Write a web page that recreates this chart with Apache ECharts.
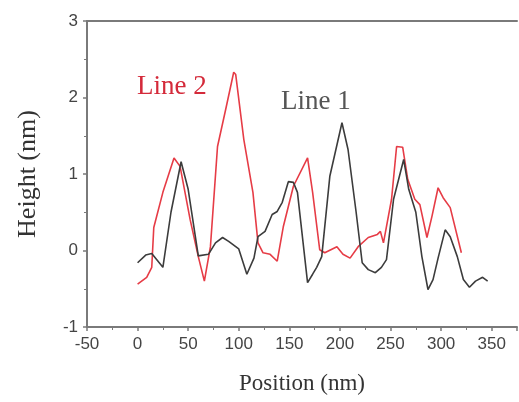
<!DOCTYPE html>
<html>
<head>
<meta charset="utf-8">
<script src="https://cdn.jsdelivr.net/npm/echarts@6/dist/echarts.min.js"></script>
<style>html,body{margin:0;padding:0;background:#fff}#c{width:519px;height:402px}</style>
</head>
<body>
<div id="c"></div>
<script>
// Line 1 (black) : position (nm), height (nm)
var line1Pos = [0, 8, 14, 25, 33, 43, 50, 60, 70, 77, 84, 90, 100, 108, 115, 119, 126, 133, 138, 143, 149, 154, 158, 168, 173, 177, 182, 190, 202, 208, 216, 222, 228, 235, 241, 246, 253, 263, 268, 275, 281, 287, 292, 297, 304, 309, 316, 322, 328, 334, 341, 346];
var line1H   = [-0.16, -0.06, -0.04, -0.22, 0.5, 1.16, 0.8, -0.07, -0.05, 0.1, 0.17, 0.12, 0.02, -0.31, -0.1, 0.18, 0.25, 0.47, 0.51, 0.63, 0.9, 0.89, 0.76, -0.42, -0.31, -0.22, -0.08, 0.97, 1.67, 1.32, 0.5, -0.16, -0.25, -0.29, -0.22, -0.12, 0.67, 1.19, 0.8, 0.5, -0.08, -0.51, -0.38, -0.1, 0.27, 0.18, -0.08, -0.38, -0.48, -0.4, -0.35, -0.4];
// Line 2 (red)
var line2Pos = [0, 9, 14, 16, 25, 36, 42, 52, 60, 66, 72, 79, 87, 95, 97, 105, 114, 119, 124, 131, 138, 144, 154, 168, 173, 180, 185, 197, 203, 210, 218, 228, 237, 240, 243, 251, 256, 262, 267, 274, 279, 286, 291, 297, 302, 309, 320];
var line2H   = [-0.44, -0.35, -0.22, 0.3, 0.76, 1.21, 1.1, 0.4, -0.08, -0.4, 0.05, 1.36, 1.84, 2.33, 2.3, 1.45, 0.76, 0.1, -0.03, -0.05, -0.14, 0.31, 0.84, 1.21, 0.76, 0.01, -0.03, 0.05, -0.05, -0.1, 0.05, 0.17, 0.21, 0.25, 0.1, 0.67, 1.36, 1.35, 0.93, 0.67, 0.6, 0.17, 0.45, 0.82, 0.69, 0.56, -0.03];
var xTicks = [-50, 0, 50, 100, 150, 200, 250, 300, 350];
var yTicks = [-1, 0, 1, 2, 3];

function pairs(xs, ys) { return xs.map(function (x, i) { return [x, ys[i]]; }); }

var axisCol = '#7a7a7a';
var chart = echarts.init(document.getElementById('c'));
chart.setOption({
  animation: false,
  backgroundColor: '#fff',
  grid: { left: 87, top: 21, right: 2, bottom: 75 },
  xAxis: [{
    type: 'value', min: -50, max: 375, interval: 50,
    axisLine: { show: true, onZero: false, lineStyle: { color: axisCol, width: 2 } },
    axisTick: { show: true, length: 4, lineStyle: { color: axisCol, width: 1.5 } },
    minorTick: { show: true, splitNumber: 2, length: 3, lineStyle: { color: axisCol } },
    splitLine: { show: false },
    axisLabel: {
      color: '#444', fontFamily: 'Liberation Sans', fontSize: 17, margin: 9,
      showMaxLabel: false,
      formatter: function (v) { return xTicks.indexOf(v) >= 0 ? String(v) : ''; }
    },
    name: 'Position (nm)', nameLocation: 'middle', nameGap: 45,
    nameTextStyle: { fontFamily: 'Liberation Serif', fontSize: 23, color: '#333' }
  }, {
    type: 'value', position: 'top', min: -50, max: 375,
    axisLine: { show: true, onZero: false, lineStyle: { color: axisCol, width: 2 } },
    axisTick: { show: false }, axisLabel: { show: false }, splitLine: { show: false }
  }],
  yAxis: {
    type: 'value', min: -1, max: 3, interval: 1,
    axisLine: { show: true, onZero: false, lineStyle: { color: axisCol, width: 2 } },
    axisTick: { show: true, length: 4, lineStyle: { color: axisCol, width: 1.5 } },
    minorTick: { show: true, splitNumber: 2, length: 3, lineStyle: { color: axisCol } },
    splitLine: { show: false },
    axisLabel: {
      color: '#444', fontFamily: 'Liberation Sans', fontSize: 17, margin: 9,
      formatter: function (v) { return yTicks.indexOf(v) >= 0 ? String(v) : ''; }
    },
    name: 'Height (nm)', nameLocation: 'middle', nameGap: 46, nameRotate: 90,
    nameTextStyle: { fontFamily: 'Liberation Serif', fontSize: 26, color: '#333' }
  },
  series: [{
    type: 'line', data: pairs(line1Pos, line1H), showSymbol: false,
    lineStyle: { color: '#3c3c3c', width: 1.6 }, z: 3
  }, {
    type: 'line', data: pairs(line2Pos, line2H), showSymbol: false,
    lineStyle: { color: '#e63c46', width: 1.6 }, z: 2
  }],
  graphic: [{
    type: 'text', left: 137, top: 73,
    style: { text: 'Line 2', fill: '#d42a3a', font: '27px "Liberation Serif"' }
  }, {
    type: 'text', left: 281, top: 88,
    style: { text: 'Line 1', fill: '#555', font: '27px "Liberation Serif"' }
  }]
});
</script>
</body>
</html>
